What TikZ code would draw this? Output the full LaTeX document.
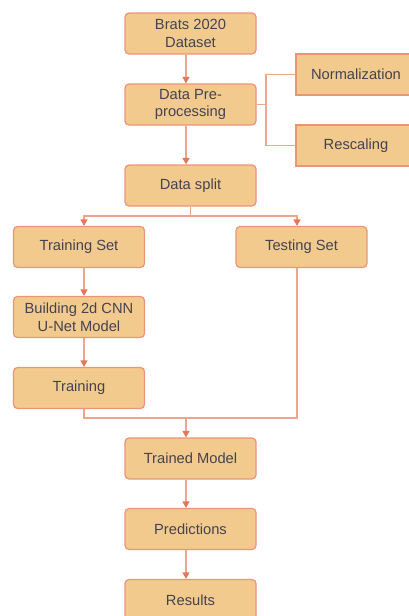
\documentclass[tikz,border=0pt]{standalone}
\usepackage{fontspec}
\setmainfont{Liberation Sans}
\usepackage{tikz}
\usetikzlibrary{arrows.meta}

\definecolor{boxfill}{HTML}{F2CA8D}
\definecolor{boxline}{HTML}{EC9478}
\definecolor{wire}{HTML}{EFA48C}
\definecolor{tip}{HTML}{E2775B}
\definecolor{txt}{HTML}{434352}

\begin{document}
\begin{tikzpicture}[x=1pt,y=-1pt,
  box/.style={draw=boxline,line width=1.2pt,fill=boxfill,rounded corners=4pt,
    minimum width=131pt,minimum height=41pt,inner sep=0pt,align=center,
    text=txt,font=\fontsize{14.7}{17.5}\selectfont},
  side/.style={box,rounded corners=0pt,minimum width=128pt},
  link/.style={draw=wire,line width=1.3pt},
  arr/.style={link,-{Triangle[width=7pt,length=6.5pt,color=tip]}}]
\useasboundingbox (0,0) rectangle (408,616);
% main column
\node[box] (brats) at (190.5,33.5) {Brats 2020\\Dataset};
\node[box] (prep) at (190.5,104.5) {Data Pre-\\processing};
\node[side] (norm) at (360,74.5) {Normalization\hspace*{8pt}};
\node[side] (resc) at (360,145.5) {Rescaling\hspace*{8pt}};
\node[box] (split) at (190.5,185.5) {Data split};
% two branches
\node[box] (trainset) at (79,247) {Training Set};
\node[box] (testset) at (301.5,247) {Testing Set};
\node[box] (build) at (79,317) {Building 2d CNN\\U-Net Model};
\node[box] (train) at (79,388) {Training};
% bottom
\node[box] (model) at (190.5,458.5) {Trained Model};
\node[box] (pred) at (190.5,529) {Predictions};
\node[box] (res) at (190.5,600) {Results};

\coordinate (fork) at (266,104.5);
\coordinate (splitmid) at (190.5,216);
\coordinate (join) at (186,418);

\draw[arr] ([xshift=-4.5pt]brats.south)--([xshift=-4.5pt]prep.north);
\draw[link] (prep.east)--(fork);
\draw[link] (norm.west)-|(fork)|-(resc.west);
\draw[arr] ([xshift=-4.5pt]prep.south)--([xshift=-4.5pt]split.north);

\draw[link] (split.south)--(splitmid);
\draw[arr] (splitmid)-|([xshift=5pt]trainset.north);
\draw[arr] (splitmid)-|([xshift=-4.5pt]testset.north);
\draw[arr] ([xshift=5pt]trainset.south)--([xshift=5pt]build.north);
\draw[arr] ([xshift=5pt]build.south)--([xshift=5pt]train.north);

\draw[link] ([xshift=5pt]train.south)|-(join);
\draw[link] ([xshift=-4.5pt]testset.south)|-(join);
\draw[arr] (join)--([xshift=-4.5pt]model.north);
\draw[arr] ([xshift=-4.5pt]model.south)--([xshift=-4.5pt]pred.north);
\draw[arr] ([xshift=-4.5pt]pred.south)--([xshift=-4.5pt]res.north);
\end{tikzpicture}
\end{document}
